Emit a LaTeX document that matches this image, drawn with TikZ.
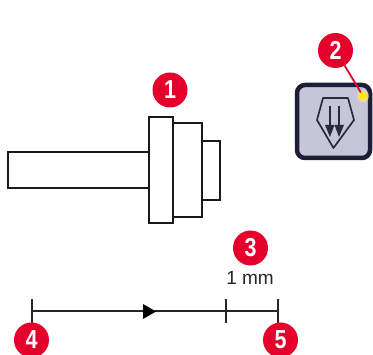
\documentclass[tikz,border=0pt]{standalone}
\usepackage{graphicx}
\usepackage{fontspec}
\setmainfont{Liberation Sans}
\definecolor{markred}{HTML}{E4002B}
\definecolor{btnfill}{HTML}{C6C6D8}
\definecolor{btnedge}{HTML}{1C1E38}
\definecolor{inkdark}{HTML}{2A2B3A}
\newcommand{\digit}[1]{\scalebox{0.86}[1.04]{\bfseries #1}}
\tikzset{
  px/.style={x=1pt,y=-1pt},
  marker/.style={circle,fill=markred,minimum size=35pt,inner sep=0pt,outer sep=0pt,text=white,font=\fontsize{25}{25}\selectfont},
  part/.style={draw=black!90,line width=2pt,fill=white,line join=miter,outer sep=0pt,inner sep=0pt,anchor=north west},
  scaleline/.style={draw=black!85,line width=1.7pt},
  glyph/.style={draw=inkdark,line width=1.7pt,line join=round}
}
\begin{document}
\begin{tikzpicture}[px]
\useasboundingbox (0,0) rectangle (373,355);
\begin{scope}
\clip (0,0) rectangle (373,355);
% workpiece
\node[part,minimum width=141pt,minimum height=36pt] (shaft) at (8,152) {};
\node[part,minimum width=18pt,minimum height=59pt] (tip) at (202,141) {};
\node[part,minimum width=29pt,minimum height=94pt] (collar) at (173,123) {};
\node[part,minimum width=24pt,minimum height=106pt] (flange) at (149,117) {};
% button
\node[draw=btnedge,line width=4.5pt,fill=btnfill,rounded corners=8pt,minimum width=73pt,minimum height=73pt,inner sep=0pt,outer sep=0pt] (button) at (333.5,121.5) {};
\draw[glyph] (323,98) -- (348,98) -- (354,120) -- (333.5,148) -- (317,120) -- cycle;
\draw[glyph,line width=2.2pt] (330,106) -- (330,128);
\draw[glyph,line width=2.2pt] (339,106) -- (339,128);
\fill[inkdark] (325,125) -- (334.5,125) -- (330,137) -- cycle;
\fill[inkdark] (334.5,125) -- (344,125) -- (339,137) -- cycle;
\node[circle,fill=yellow!70!orange!40,minimum size=12pt,inner sep=0pt,opacity=.55] (glow) at (363,96) {};
\node[circle,fill=yellow!90!orange,minimum size=8pt,inner sep=0pt] (dot) at (363,96) {};
% scale
\coordinate (a) at (31.7,311);
\coordinate (b) at (226,311);
\coordinate (c) at (278,311);
\draw[scaleline] (a) -- (b) -- (c);
\draw[scaleline] (31.7,299.5) -- (31.7,323);
\draw[scaleline] (226,299.5) -- (226,323);
\draw[scaleline] (278,299.5) -- (278,323);
\fill[black] (143,304) -- (156,311.5) -- (143,319) -- cycle;
\node[font=\fontsize{19}{19}\selectfont,text=black!85,inner sep=0pt] (mm) at (250,278) {1 mm};
% markers
\node[marker] (m1) at (170,90) {\digit{1}};
\node[marker] (m2) at (335.5,50.5) {\digit{2}};
\node[marker] (m3) at (250.5,248) {\digit{3}};
\node[marker] (m4) at (31.5,340) {\digit{4}};
\node[marker] (m5) at (280.5,340) {\digit{5}};
\draw[markred,line width=1.8pt] (m2) -- (dot);
\end{scope}
\end{tikzpicture}
\end{document}
